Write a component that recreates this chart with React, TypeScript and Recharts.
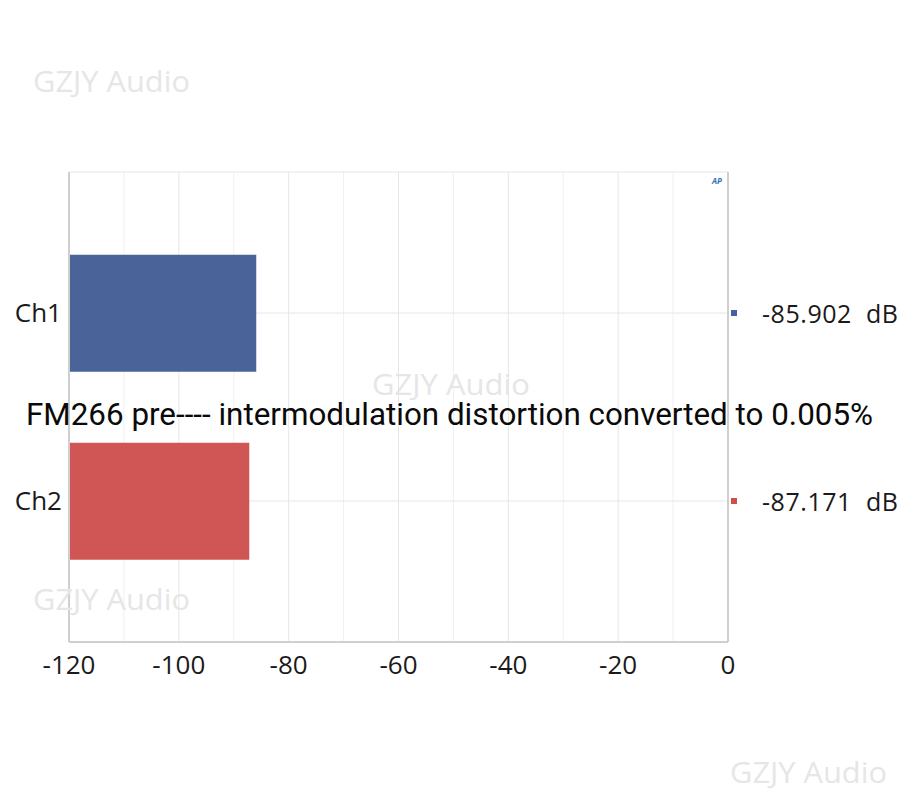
import React from 'react';
import { BarChart, Bar, XAxis, YAxis, CartesianGrid, Cell } from 'recharts';

const channels = ['Ch1', 'Ch2'];
const levelsDb = [-85.902, -87.171];
const barColors = ['#4a6399', '#d05656'];
const markerColors = ['#4561a0', '#d04e4a'];
const xTicks = [-120, -100, -80, -60, -40, -20, 0];
const minorTicks = [-110, -90, -70, -50, -30, -10];
const axisMin = -120;
const axisMax = 0;
const title = 'FM266 pre---- intermodulation distortion converted to 0.005%';
const watermark = 'GZJY Audio';

const data = channels.map((name, i) => ({ name, value: levelsDb[i] }));

const FONT = '"Open Sans", "Noto Sans", sans-serif';

const RightTick = (props: any) => {
  const { x, y, index } = props;
  const v = levelsDb[index];
  return (
    <g>
      <rect x={x + 3} y={y - 3} width={6} height={6} fill={markerColors[index]} />
      <text x={x + 34} y={y} dominantBaseline="central" fontSize={25} fontFamily={FONT} fill="#1a1a1a" textLength={136} lengthAdjust="spacing" style={{ whiteSpace: 'pre' }}>
        {`${v.toFixed(3)}  dB`}
      </text>
    </g>
  );
};

const minorGen = (args: any) => {
  const xAxis = args && args.xAxis;
  if (xAxis && typeof xAxis.scale === 'function') {
    return minorTicks.map((t) => xAxis.scale(t));
  }
  const off = args.offset;
  return minorTicks.map((t) => off.left + ((t - axisMin) / (axisMax - axisMin)) * off.width);
};

export default function App() {
  return (
    <div style={{ position: 'absolute', left: 0, top: 0, width: 900, height: 800, background: '#fff' }}>
      <BarChart
        width={900}
        height={800}
        data={data}
        layout="vertical"
        margin={{ top: 172, right: 0, left: 0, bottom: 98 }}
        barCategoryGap="19%"
      >
        <CartesianGrid stroke="#f0f0f0" vertical={true} horizontal={false} verticalCoordinatesGenerator={minorGen} />
        <CartesianGrid stroke="#e6e6e6" vertical={true} horizontal={true} />
        <XAxis
          type="number"
          domain={[axisMin, axisMax]}
          ticks={xTicks}
          height={60}
          tickLine={false}
          tickSize={0}
          tickMargin={14}
          axisLine={{ stroke: '#cfcfcf', strokeWidth: 2 }}
          tick={{ fontSize: 26, fontFamily: FONT, fill: '#1a1a1a' }}
          interval={0}
        />
        <XAxis
          xAxisId="top"
          orientation="top"
          type="number"
          domain={[axisMin, axisMax]}
          height={0}
          tick={false}
          tickLine={false}
          axisLine={{ stroke: '#d8d8d8', strokeWidth: 2 }}
        />
        <YAxis
          type="category"
          dataKey="name"
          width={69}
          padding={{ top: 47, bottom: 47 }}
          tickLine={false}
          tickSize={0}
          tickMargin={7}
          axisLine={{ stroke: '#cfcfcf', strokeWidth: 2 }}
          tick={{ fontSize: 26, fontFamily: FONT, fill: '#1a1a1a' }}
        />
        <YAxis
          yAxisId="right"
          orientation="right"
          type="category"
          dataKey="name"
          width={172}
          padding={{ top: 47, bottom: 47 }}
          tickLine={false}
          tickSize={0}
          tickMargin={0}
          axisLine={{ stroke: '#cfcfcf', strokeWidth: 2 }}
          tick={<RightTick />}
        />
        <Bar dataKey={(d: any) => [axisMin, d.value]} isAnimationActive={false}>
          {data.map((d, i) => (
            <Cell key={d.name} fill={barColors[i]} />
          ))}
        </Bar>
      </BarChart>
      <svg width={900} height={800} style={{ position: 'absolute', left: 0, top: 0, pointerEvents: 'none' }}>
        <text x={33} y={92} fontSize={29} fontFamily={FONT} fill="#e6e6e6" textLength={157} lengthAdjust="spacingAndGlyphs">{watermark}</text>
        <text x={372} y={395} fontSize={29} fontFamily={FONT} fill="#e6e6e6" textLength={158} lengthAdjust="spacingAndGlyphs">{watermark}</text>
        <text x={33} y={610} fontSize={29} fontFamily={FONT} fill="#e6e6e6" textLength={157} lengthAdjust="spacingAndGlyphs">{watermark}</text>
        <text x={730} y={783} fontSize={29} fontFamily={FONT} fill="#e6e6e6" textLength={157} lengthAdjust="spacingAndGlyphs">{watermark}</text>
        <text x={712} y={184} fontSize={8} fontFamily={FONT} fontWeight="bold" fontStyle="italic" fill="#3a6fb5">AP</text>
        <text x={26} y={425} fontSize={32} fontWeight={400} fontFamily='"Liberation Sans Narrow", "Roboto", "Open Sans", sans-serif' fill="#0a0a0a" textLength={847} lengthAdjust="spacingAndGlyphs">{title}</text>
      </svg>
    </div>
  );
}
